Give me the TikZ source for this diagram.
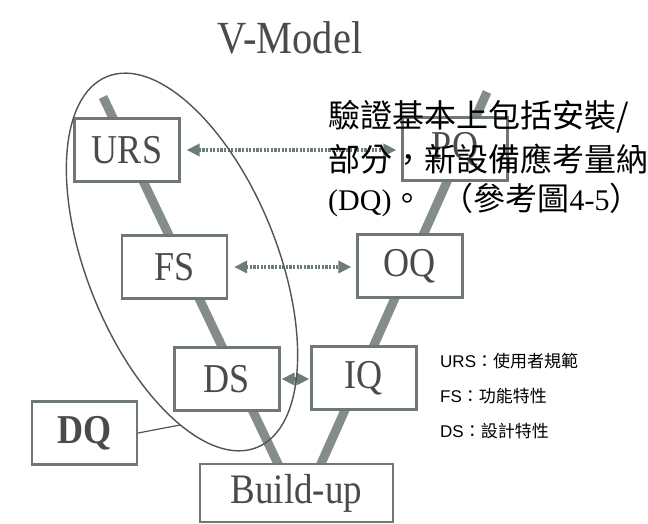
\documentclass[tikz,border=0pt]{standalone}
\usepackage{fontspec}
\usetikzlibrary{arrows.meta,backgrounds}
\newfontfamily\vserif[FakeStretch=0.88]{Liberation Serif}
\newfontfamily\tnr{Liberation Serif}
\newfontfamily\lsans{Liberation Sans}
\newfontfamily\cjk{Noto Sans CJK TC}
\definecolor{boxgray}{HTML}{6F7873}
\definecolor{bargray}{HTML}{858D89}
\definecolor{arrgray}{HTML}{6C7D76}
\definecolor{txtgray}{HTML}{4A4A4A}
\definecolor{ellgray}{HTML}{4F5552}
\begin{document}
\begin{tikzpicture}[x=1pt,y=-1pt,
  vbox/.style={draw=boxgray, line width=2.2pt, fill=white, inner sep=0pt,
    minimum width=105pt, minimum height=63pt, text=txtgray,
    font=\vserif\fontsize{41}{41}\selectfont},
  vbar/.style={draw=bargray, line width=9pt},
  darr/.style={draw=arrgray, line width=3.6pt, dash pattern=on 2.2pt off 1.4pt,
    {Triangle[length=13pt,width=12pt]}-{Triangle[length=13pt,width=12pt]}},
  ell/.style={draw=ellgray, line width=1.4pt},
  thinline/.style={draw=ellgray, line width=1.2pt},
  title/.style={text=txtgray, font=\vserif\fontsize{46}{46}\selectfont},
  note/.style={text=black, anchor=west, inner sep=0pt, font=\cjk\fontsize{32}{32}\selectfont},
  legend/.style={text=black, anchor=west, inner sep=0pt, font=\cjk\fontsize{17}{17}\selectfont}]
\useasboundingbox (0,0) rectangle (648,524);

% boxes
\node[vbox] (URS) at (127,150) {URS};
\node[vbox] (PQ) at (455,149) {PQ};
\node[vbox] (FS) at (174.5,267) {FS};
\node[vbox] (OQ) at (410,266) {OQ};
\node[vbox] (DS) at (227,379) {DS};
\node[vbox] (IQ) at (364,378) {IQ};
\node[vbox, font=\vserif\bfseries\fontsize{41}{41}\selectfont] (DQ) at (84.5,433) {DQ};
\node[vbox, minimum width=193pt, minimum height=58pt, font=\vserif\fontsize{42}{42}\selectfont] (BU) at (296.5,493) {Build-up};

% V arms
\coordinate (vtl) at (103,97);
\coordinate (vbl) at (279,466);
\coordinate (vtr) at (487,92);
\coordinate (vbr) at (320,466);
\begin{scope}[on background layer]
  \fill[white] (0,0) rectangle (648,524);
  \draw[vbar] (vtl) -- (vbl);
  \draw[vbar] (vtr) -- (vbr);
\end{scope}

% title
\node[title] (T) at (290,38) {V-Model};

% arrows
\draw[darr, shorten <=6pt, shorten >=5pt] (URS.east) -- (URS.east -| PQ.west);
\draw[darr, shorten <=6pt, shorten >=5pt] (FS.east) -- (FS.east -| OQ.west);
\draw[darr, shorten <=1pt, shorten >=1pt] (DS.east) -- (DS.east -| IQ.west);

% ellipse
\coordinate (EC) at (182,262);
\draw[ell, rotate around={22:(EC)}] (EC) ellipse [x radius=95, y radius=200];
\coordinate (dqe) at (180,425);
\draw[thinline] (DQ.east) -- (dqe);

% overlay text
\node[note] (n1) at (328,117) {驗證基本上包括安裝/};
\node[note] (n2) at (328,159) {部分，新設備應考量納};
\node[note] (n3) at (328,200) {{\tnr\fontsize{30}{30}\selectfont (DQ)}。\hspace{18pt}（參考圖{\tnr\fontsize{30}{30}\selectfont 4-5}）};

% legend
\node[legend] (l1) at (440,361) {{\lsans URS}：使用者規範};
\node[legend] (l2) at (440,396) {{\lsans FS}：功能特性};
\node[legend] (l3) at (440,431) {{\lsans DS}：設計特性};
\end{tikzpicture}
\end{document}
